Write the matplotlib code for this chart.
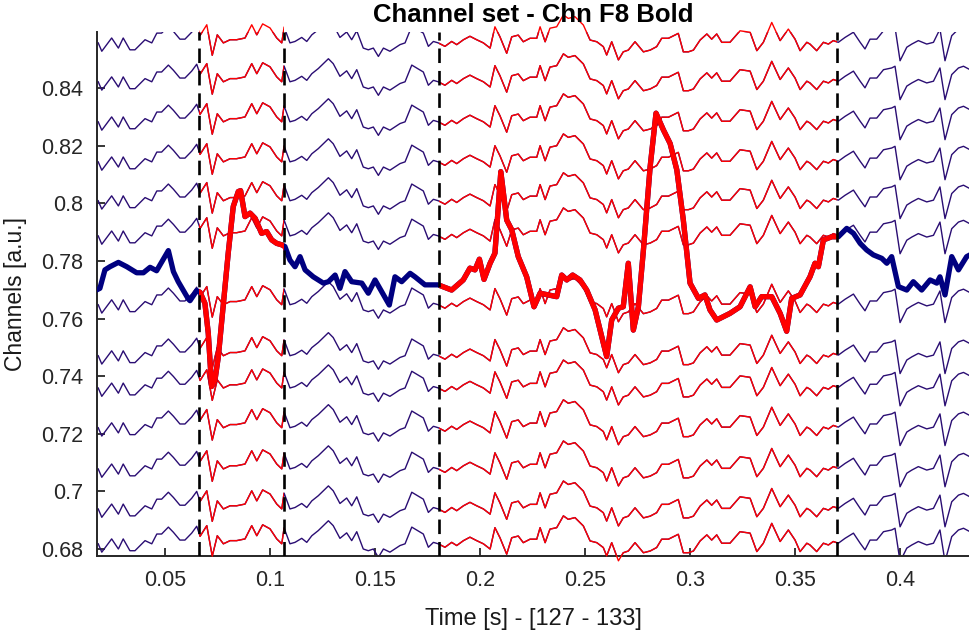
import numpy as np
import matplotlib.pyplot as plt
from matplotlib.patches import Rectangle

plt.rcParams['font.family'] = ['Liberation Sans', 'DejaVu Sans']

# marked time windows (s)
windows = [(0.0664, 0.1067), (0.1805, 0.3700)]

# highlighted channel (F8)
bold_t = [0.0176, 0.0190, 0.0214, 0.0238, 0.0278, 0.0318, 0.0365, 0.0397, 0.0429, 0.0460,
          0.0516, 0.0540, 0.0563, 0.0611, 0.0619, 0.0651, 0.0667,
          0.0690, 0.0706, 0.0722, 0.0738, 0.0754, 0.0778, 0.0801, 0.0825, 0.0849, 0.0860,
          0.0881, 0.0905, 0.0929, 0.0960, 0.0984, 0.1008, 0.1032, 0.1056,
          0.1071, 0.1095, 0.1119, 0.1143, 0.1167, 0.1206, 0.1254, 0.1278, 0.1310, 0.1333,
          0.1357, 0.1389, 0.1437, 0.1468, 0.1500, 0.1532, 0.1568, 0.1595, 0.1627, 0.1667,
          0.1690, 0.1738, 0.1801,
          0.1865, 0.1920, 0.1952, 0.1976, 0.1997, 0.2019, 0.2048, 0.2071, 0.2099, 0.2127,
          0.2151, 0.2182, 0.2222, 0.2257, 0.2286, 0.2325, 0.2365, 0.2389, 0.2413, 0.2441,
          0.2476, 0.2508, 0.2548, 0.2603, 0.2627, 0.2659, 0.2682, 0.2706, 0.2730, 0.2754,
          0.2778, 0.2810, 0.2838, 0.2873, 0.2905, 0.2937, 0.2968, 0.3000, 0.3040, 0.3071,
          0.3095, 0.3127, 0.3190, 0.3238, 0.3286, 0.3310, 0.3341, 0.3389, 0.3429, 0.3460,
          0.3484, 0.3524, 0.3571, 0.3595, 0.3611, 0.3635, 0.3675, 0.3706,
          0.3746, 0.3778, 0.3810, 0.3841, 0.3873, 0.3913, 0.3937, 0.3960, 0.3992, 0.4032,
          0.4063, 0.4103, 0.4143, 0.4175, 0.4190, 0.4214, 0.4246, 0.4278, 0.4317, 0.4333]
bold_v = [0.7700, 0.7705, 0.7769, 0.7780, 0.7795, 0.7780, 0.7759, 0.7759, 0.7778, 0.7766,
          0.7836, 0.7763, 0.7728, 0.7668, 0.7662, 0.7697, 0.7691,
          0.7653, 0.7549, 0.7364, 0.7387, 0.7468, 0.7653, 0.7827, 0.7989, 0.8041, 0.8044,
          0.7954, 0.7966, 0.7948, 0.7896, 0.7902, 0.7873, 0.7861, 0.7856,
          0.7850, 0.7803, 0.7780, 0.7815, 0.7769, 0.7745, 0.7723, 0.7728, 0.7751, 0.7705,
          0.7763, 0.7728, 0.7723, 0.7688, 0.7734, 0.7693, 0.7647, 0.7745, 0.7728, 0.7757,
          0.7745, 0.7717, 0.7717,
          0.7699, 0.7734, 0.7775, 0.7769, 0.7806, 0.7736, 0.7792, 0.7827, 0.8110, 0.7942,
          0.7908, 0.7815, 0.7745, 0.7641, 0.7688, 0.7682, 0.7676, 0.7751, 0.7734, 0.7751,
          0.7734, 0.7699, 0.7630, 0.7468, 0.7595, 0.7636, 0.7641, 0.7792, 0.7560, 0.7641,
          0.7838, 0.8127, 0.8313, 0.8255, 0.8208, 0.8116, 0.7942, 0.7723, 0.7670, 0.7682,
          0.7630, 0.7595, 0.7618, 0.7641, 0.7710, 0.7641, 0.7676, 0.7676, 0.7618, 0.7556,
          0.7670, 0.7682, 0.7745, 0.7792, 0.7780, 0.7873, 0.7884, 0.7884,
          0.7913, 0.7896, 0.7861, 0.7838, 0.7821, 0.7809, 0.7792, 0.7815, 0.7711, 0.7699,
          0.7728, 0.7699, 0.7734, 0.7723, 0.7745, 0.7682, 0.7815, 0.7769, 0.7815, 0.7821]

# common waveform of the neighbouring channels (deviation in 1e-3 a.u.)
wave_t = [0.0182, 0.0199, 0.0246, 0.0278, 0.0301, 0.0333, 0.0357, 0.0405, 0.0437, 0.0461,
          0.0484, 0.0516, 0.0540, 0.0571, 0.0595, 0.0627, 0.0651, 0.0667, 0.0699, 0.0725,
          0.0749, 0.0778, 0.0810, 0.0841, 0.0881, 0.0913, 0.0937, 0.0965, 0.1000, 0.1032,
          0.1056, 0.1067, 0.1095, 0.1119, 0.1151, 0.1175, 0.1199, 0.1230, 0.1278, 0.1301,
          0.1333, 0.1365, 0.1389, 0.1413, 0.1444, 0.1468, 0.1492, 0.1516, 0.1540, 0.1571,
          0.1619, 0.1643, 0.1675, 0.1730, 0.1754, 0.1778, 0.1801, 0.1833, 0.1865, 0.1889,
          0.1921, 0.1952, 0.1984, 0.2016, 0.2048,
          0.2071, 0.2095, 0.2127, 0.2151, 0.2182, 0.2206, 0.2238, 0.2270, 0.2286, 0.2310,
          0.2333, 0.2365, 0.2397, 0.2420, 0.2452, 0.2492, 0.2524, 0.2556, 0.2587, 0.2603,
          0.2627, 0.2659, 0.2682, 0.2706, 0.2738, 0.2778, 0.2810, 0.2841, 0.2865, 0.2897,
          0.2944, 0.2968, 0.2992, 0.3016, 0.3048,
          0.3080, 0.3103, 0.3127, 0.3151, 0.3190, 0.3238, 0.3286, 0.3318, 0.3349, 0.3389,
          0.3429, 0.3468, 0.3500, 0.3524, 0.3556, 0.3571, 0.3603, 0.3635, 0.3659, 0.3682,
          0.3706, 0.3738, 0.3778, 0.3810, 0.3833, 0.3857, 0.3889, 0.3921, 0.3960, 0.3976,
          0.4000, 0.4032, 0.4056, 0.4087, 0.4127, 0.4159, 0.4190, 0.4214, 0.4246, 0.4278,
          0.4302, 0.4333]
wave_dev = [-1.0, -3.9, 0.7, -2.8, 0.7, -3.4, -3.4, 0.1, -1.0, 2.4,
            2.4, 4.8, 3.0, 0.3, 0.3, 2.7, 5.1, 1.6, 5.3, -5.3,
            1.8, -1.0, 0.1, 0.1, 0.7, 5.3, 1.8, 5.6, 4.2, 0.7,
            -1.0, 4.5, -1.0, -0.5, 0.9, -0.5, 1.8, 3.6, 7.0, 5.3,
            0.9, 2.8, 0.1, 3.2, -2.8, -3.4, -2.8, -5.7, -2.8, -3.9,
            -1.6, -1.0, 4.8, 2.4, -2.2, -0.5, -1.0, -2.2, -0.5, -1.6,
            0.1, 1.3, 0.1, -1.0, -2.8,
            4.6, 1.1, -4.6, 1.1, 1.7, -0.6, 0.6, 0.6, 4.6, -0.6,
            4.1, 4.6, 8.7, 7.5, 8.1, 5.2, 0.0, -0.6, -2.3, -5.2,
            -0.6, -6.9, -4.1, -3.5, -0.6, -4.1, -3.5, -2.3, 0.6, 0.6,
            2.3, -4.1, -4.1, -3.5, 0.0,
            2.1, 0.3, 2.1, -0.8, -0.8, 3.2, 2.7, -3.7, -0.8, 6.1,
            -0.2, 3.8, 0.3, -3.7, -0.8, -1.4, -3.7, -0.8, -1.4, -0.2,
            -0.8, 0.9, 2.7, -0.8, -3.1, 0.3, 0.3, 3.2, 3.8, 4.4,
            -7.2, -2.5, -1.4, -0.2, -1.4, -0.8, 3.8, -7.2, 1.5, 3.8,
            4.4, 3.2]

# vertical offset of each of the other channels
chan_base = [0.8567, 0.8432, 0.8293, 0.8154, 0.8019, 0.7897,
             0.7658, 0.7481, 0.7369, 0.7231, 0.7088, 0.6949, 0.6828]

navy_thin = '#2a0d73'
navy_bold = '#000080'
red = '#ff0000'

fig = plt.figure(figsize=(9.7, 6.36), dpi=100)
ax = fig.add_axes([0.1, 0.1258, 0.9, 0.824])
ax.set_xlim(0.01762, 0.4333)
ax.set_ylim(0.67757, 0.85951)


def clipped_red(t, v, lw):
    # red copy of the trace, visible only inside the marked windows
    for a, b in windows:
        ln, = ax.plot(t, v, color=red, lw=lw, zorder=3 if lw < 2 else 5)
        ln.set_clip_path(Rectangle((a, 0.6), b - a, 0.3, transform=ax.transData))


wt = np.array(wave_t)
wd = np.array(wave_dev) * 1e-3
for base in chan_base:
    y = base + wd
    ax.plot(wt, y, color=navy_thin, lw=1.0, zorder=2)
    clipped_red(wt, y, 1.0)

bt = np.array(bold_t)
bv = np.array(bold_v)
ax.plot(bt, bv, color=navy_bold, lw=3.8, zorder=4, solid_joinstyle='round')
clipped_red(bt, bv, 3.8)

for a, b in windows:
    for x in (a, b):
        ax.axvline(x, color='black', lw=1.9, ls=(0, (5.5, 3)), zorder=6)

ax.spines['top'].set_visible(False)
ax.spines['right'].set_visible(False)
for s in ('left', 'bottom'):
    ax.spines[s].set_color('#262626')
    ax.spines[s].set_linewidth(1.4)

ax.set_xticks([0.05, 0.1, 0.15, 0.2, 0.25, 0.3, 0.35, 0.4])
ax.set_xticklabels(['0.05', '0.1', '0.15', '0.2', '0.25', '0.3', '0.35', '0.4'])
ax.set_yticks([0.68, 0.70, 0.72, 0.74, 0.76, 0.78, 0.80, 0.82, 0.84])
ax.set_yticklabels(['0.68', '0.7', '0.72', '0.74', '0.76', '0.78', '0.8', '0.82', '0.84'])
ax.tick_params(direction='in', length=6, width=1.3, colors='#262626',
               labelsize=15.5, pad=10)

ax.set_xlabel('Time [s] - [127 - 133]', fontsize=17, color='#1a1a1a', labelpad=12)
ax.set_ylabel('Channels [a.u.]', fontsize=16.5, color='#1a1a1a', labelpad=10)
ax.set_title('Channel set - Chn F8 Bold', fontsize=18.5, fontweight='bold', pad=7)

fig.savefig('out.png', dpi=100)
